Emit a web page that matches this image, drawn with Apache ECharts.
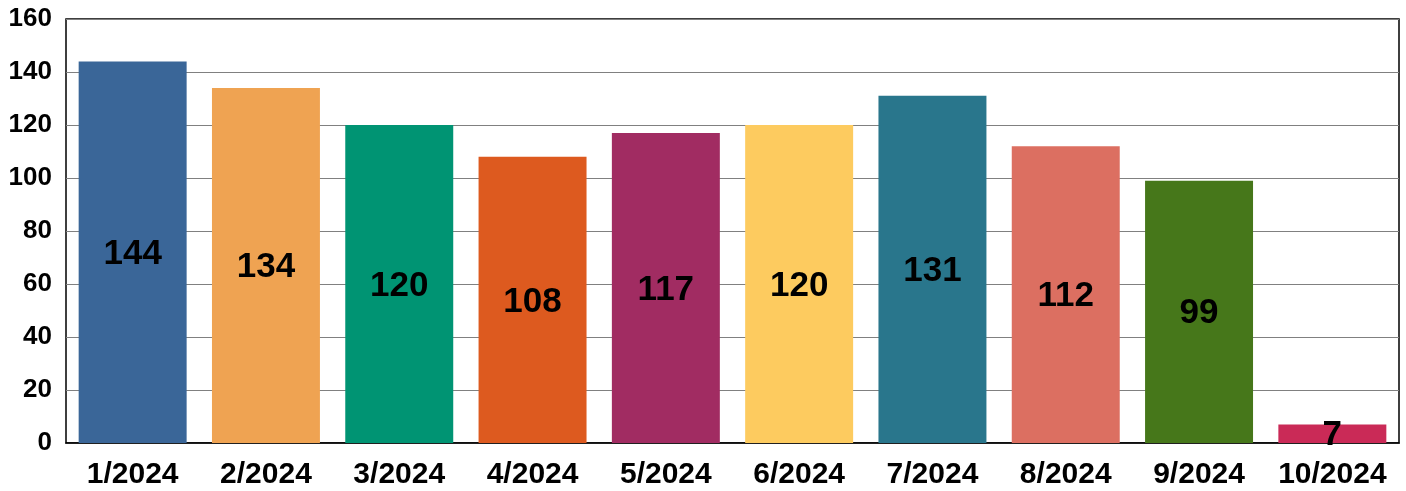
<!DOCTYPE html>
<html><head><meta charset="utf-8">
<script src="https://cdn.jsdelivr.net/npm/echarts@6/dist/echarts.min.js"></script>
<style>html,body{margin:0;padding:0;background:#fff}#c{width:1406px;height:491px}</style>
</head><body><div id="c"></div>
<script>
const categories = ['1/2024','2/2024','3/2024','4/2024','5/2024','6/2024','7/2024','8/2024','9/2024','10/2024'];
const values = [144,134,120,108,117,120,131,112,99,7];
const colors = ['#3A6698','#EFA352','#009473','#DD5A1F','#A12C62','#FDCB5F','#29768C','#DC6F61','#46771A','#CA2A57'];
const yTicks = [0,20,40,60,80,100,120,140,160];

const chart = echarts.init(document.getElementById('c'), null, {renderer:'canvas'});
chart.setOption({
  animation:false,
  grid:{left:66,right:7,top:19,bottom:48,show:true,borderColor:'#000',borderWidth:1.5,backgroundColor:'transparent'},
  xAxis:{type:'category',data:categories,
    axisLine:{show:true,lineStyle:{color:'#000',width:1.5}},
    axisTick:{show:false},
    axisLabel:{interval:0,color:'#000',fontFamily:'Liberation Sans, Arial',fontWeight:'bold',fontSize:30,margin:17}},
  yAxis:{type:'value',min:0,max:yTicks[yTicks.length-1],interval:20,
    axisLine:{show:false},axisTick:{show:false},
    splitLine:{lineStyle:{color:'#808080',width:1.2}},
    axisLabel:{color:'#000',fontFamily:'Liberation Sans, Arial',fontWeight:'bold',fontSize:26,margin:14}},
  series:[{type:'bar',barCategoryGap:'19%',
    data:values.map((v,i)=>({value:v,itemStyle:{color:colors[i]}})),
    label:{show:true,position:'inside',offset:[0,2],color:'#000',fontFamily:'Liberation Sans, Arial',fontWeight:'bold',fontSize:35}}]
});
</script></body></html>
